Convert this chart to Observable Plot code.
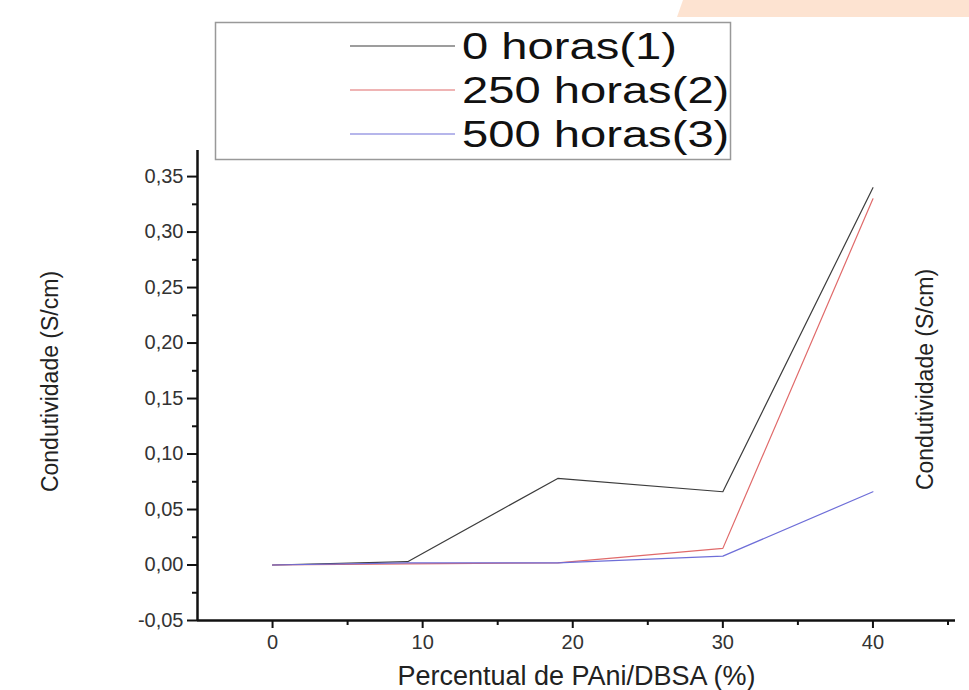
<!DOCTYPE html>
<html>
<head>
<meta charset="utf-8">
<script src="https://cdn.jsdelivr.net/npm/d3@7"></script>
<script src="https://cdn.jsdelivr.net/npm/@observablehq/plot@0.6"></script>
<style>
  html, body { margin: 0; padding: 0; background: #fff; }
  #wrap { position: relative; width: 969px; height: 690px; overflow: hidden; font-family: "Liberation Sans", Arial, sans-serif; }
  #deco { position: absolute; left: 677px; top: 0; width: 292px; height: 17px; background: #fde3d1; clip-path: polygon(6px 0, 100% 0, 100% 100%, 0 100%); }
  #chart { position: absolute; left: 0; top: 0; }
  #legend { position: absolute; left: 0; top: 0; }
</style>
</head>
<body>
<div id="wrap">
  <div id="chart"></div>
  <div id="deco"></div>
  <svg id="legend" width="969" height="200"></svg>
</div>
<script>
// ---- data ----
const percent = [0, 9, 19, 30, 40];
const horas0 = [0, 0.003, 0.078, 0.066, 0.340];
const horas250 = [0, 0.001, 0.002, 0.015, 0.330];
const horas500 = [0, 0.002, 0.002, 0.008, 0.066];
const seriesNames = ["0 horas(1)", "250 horas(2)", "500 horas(3)"];
const seriesColors = ["#3c3c3c", "#e06a6a", "#6e6ed8"];
const xTicks = [0, 10, 20, 30, 40];
const xMinorTicks = [5, 15, 25, 35, 45];
const yTicks = [-0.05, 0, 0.05, 0.10, 0.15, 0.20, 0.25, 0.30, 0.35];
const yMinorTicks = [-0.025, 0.025, 0.075, 0.125, 0.175, 0.225, 0.275, 0.325];
const xLabel = "Percentual de PAni/DBSA (%)";
const yLabel = "Condutividade (S/cm)";

const seriesValues = [horas0, horas250, horas500];
const rows = [];
seriesNames.forEach((name, i) => {
  percent.forEach((p, j) => rows.push({series: name, x: p, y: seriesValues[i][j]}));
});

const fmt = d => d.toFixed(2).replace(".", ",");

const chart = Plot.plot({
  width: 969,
  height: 690,
  marginLeft: 197,
  marginRight: 14,
  marginTop: 150,
  marginBottom: 70,
  style: {fontFamily: "'Liberation Sans', Arial, sans-serif", fontSize: "20px", color: "#333", background: "transparent", overflow: "visible"},
  x: {domain: [-5, 45.5]},
  y: {domain: [-0.05, 0.3735]},
  color: {domain: seriesNames, range: seriesColors},
  marks: [
    Plot.line(rows, {x: "x", y: "y", z: "series", stroke: "series", strokeWidth: 1.2}),
    Plot.axisX({ticks: xTicks, tickSize: 8, tickPadding: 6, tickFormat: d => String(d), stroke: "#111", strokeWidth: 2, fontSize: 20, fill: "#333", label: null}),
    Plot.axisX({ticks: xMinorTicks, tickSize: 5, tickFormat: () => "", stroke: "#111", strokeWidth: 2, label: null}),
    Plot.axisY({ticks: yTicks, tickSize: 10, tickPadding: 4, tickFormat: fmt, stroke: "#111", strokeWidth: 2, fontSize: 20, fill: "#333", label: null}),
    Plot.axisY({ticks: yMinorTicks, tickSize: 5, tickFormat: () => "", stroke: "#111", strokeWidth: 2, label: null}),
    Plot.ruleY([-0.05], {stroke: "#111", strokeWidth: 2.5}),
    Plot.ruleX([-5], {stroke: "#111", strokeWidth: 2.5}),
    Plot.text([xLabel], {text: d => d, frameAnchor: "bottom", dy: 64, fontSize: 27, fill: "#222"}),
    Plot.text([yLabel], {text: d => d, frameAnchor: "left", dx: -147, dy: -4, rotate: -90, textAnchor: "middle", fontSize: 23, fill: "#222"}),
    Plot.text([yLabel], {text: d => d, frameAnchor: "right", dx: -30, dy: -6, rotate: -90, textAnchor: "middle", fontSize: 23, fill: "#222"})
  ]
});
document.getElementById("chart").appendChild(chart);

// ---- legend box ----
const leg = d3.select("#legend");
leg.append("rect").attr("x", 215.5).attr("y", 22.5).attr("width", 515).attr("height", 137)
  .attr("fill", "white").attr("stroke", "#999").attr("stroke-width", 1.5);
const rowsY = [46, 90, 134];
seriesNames.forEach((name, i) => {
  leg.append("line").attr("x1", 350).attr("x2", 455).attr("y1", rowsY[i]).attr("y2", rowsY[i])
    .attr("stroke", seriesColors[i]).attr("stroke-width", 1.2);
  leg.append("text")
    .attr("transform", `translate(462,${rowsY[i]}) scale(1.31,1)`)
    .attr("dy", "0.35em")
    .attr("font-family", "'Liberation Sans', Arial, sans-serif").attr("font-size", 36)
    .attr("fill", "#111").text(name);
});
</script>
</body>
</html>
